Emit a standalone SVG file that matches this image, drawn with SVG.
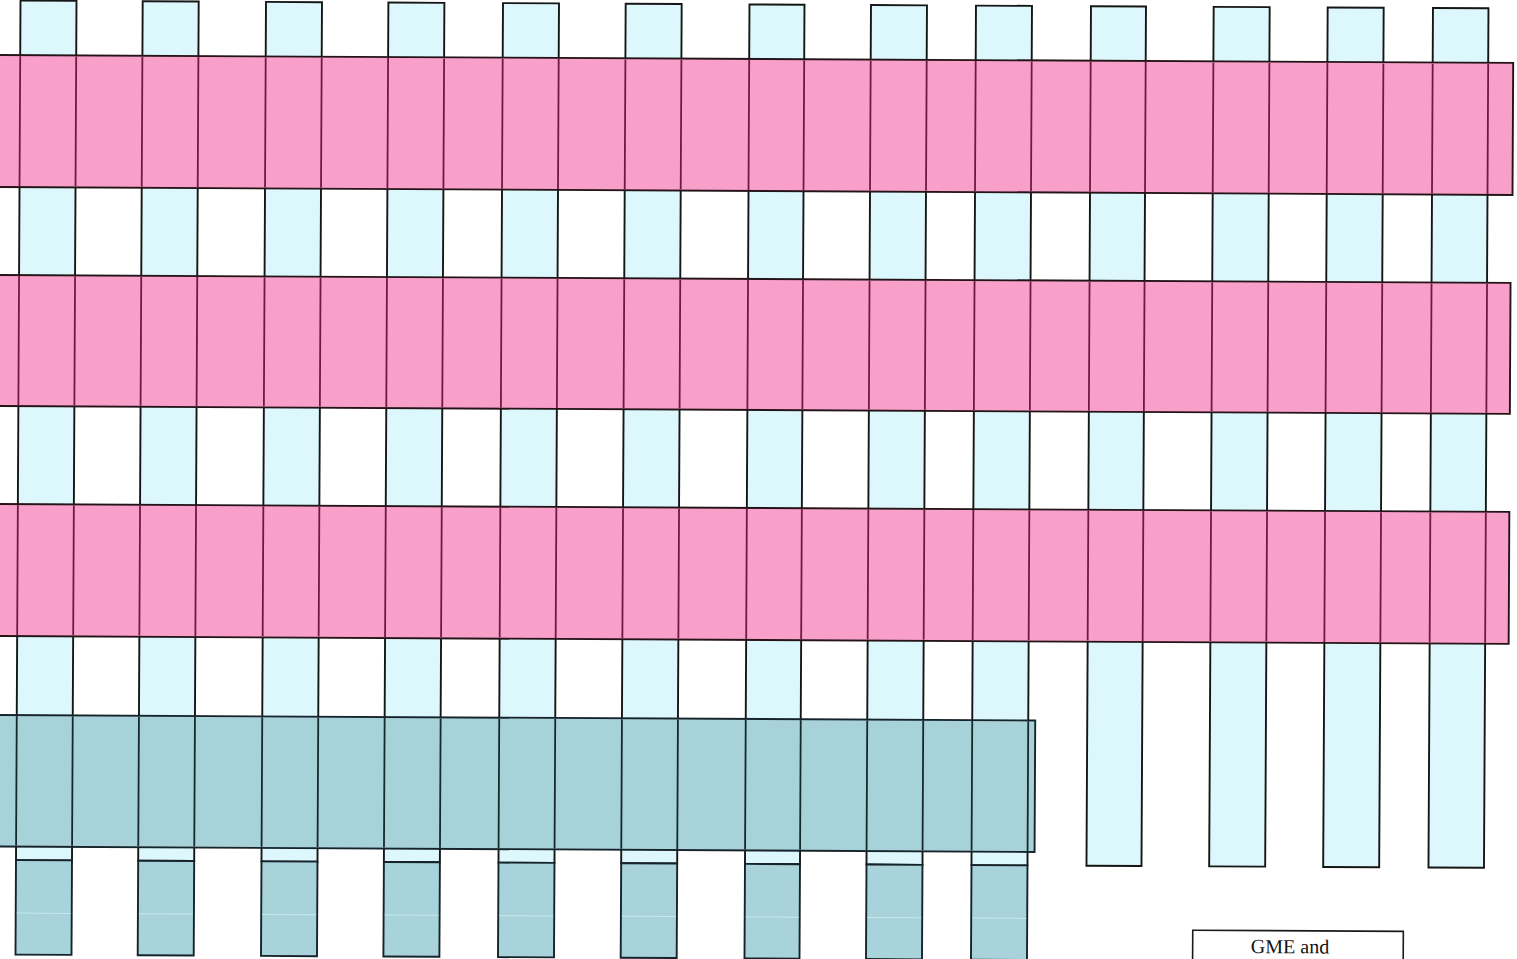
<svg xmlns="http://www.w3.org/2000/svg" xmlns:xlink="http://www.w3.org/1999/xlink" width="1517" height="959" viewBox="0 0 1517 959">
<style>
.col{fill:#dcf8fc;stroke:#161616;stroke-width:1.9}
.tbox{fill:#a8d3db;stroke:#16232a;stroke-width:1.9}
.pink{fill:#f8a0c9;stroke:#241418;stroke-width:1.9}
.teal{fill:#a8d2da;stroke:#16232a;stroke-width:1.9}
.seam{stroke:#c6e8ee;stroke-width:1;fill:none}
.lbl{font-family:"Liberation Serif","Times New Roman",serif;font-size:20px;fill:#111;text-anchor:middle}
</style>
<defs>
<path id="edges" d="M20.5 0V960M76.5 0V960M142.7 0V960M198.7 0V960M266 0V960M322 0V960M388.4 0V960M444.4 0V960M503 0V960M559 0V960M625.7 0V960M681.7 0V960M749.5 0V960M804.5 0V960M871 0V960M927 0V960M976 0V960M1032 0V960M1091 0V960M1146 0V960M1213.7 0V960M1269.7 0V960M1327.7 0V960M1383.7 0V960M1433 0V960M1488.5 0V960"/>
<clipPath id="pinkClip">
<rect x="-10" y="56" width="1523" height="130"/>
<rect x="-10" y="276" width="1521" height="129"/>
<rect x="-10" y="505" width="1521" height="130"/>
</clipPath>
<clipPath id="tealClip">
<rect x="-10" y="716" width="1048" height="129.5"/>
</clipPath>
</defs>
<rect x="0" y="0" width="1517" height="959" fill="#ffffff"/>
<g transform="rotate(0.3)">
<g id="columns">
<rect class="col" x="20.5" y="0.5" width="56" height="859.5"/>
<rect class="col" x="142.7" y="0.5" width="56" height="859.5"/>
<rect class="col" x="266" y="0.5" width="56" height="859.5"/>
<rect class="col" x="388.4" y="0.5" width="56" height="859.5"/>
<rect class="col" x="503" y="0.5" width="56" height="859.5"/>
<rect class="col" x="625.7" y="0.5" width="56" height="859.5"/>
<rect class="col" x="749.5" y="0.5" width="55" height="859.5"/>
<rect class="col" x="871" y="0.5" width="56" height="859.5"/>
<rect class="col" x="976" y="0.5" width="56" height="859.5"/>
<rect class="col" x="1091" y="0.5" width="55" height="859.5"/>
<rect class="col" x="1213.7" y="0.5" width="56" height="859.5"/>
<rect class="col" x="1327.7" y="0.5" width="56" height="859.5"/>
<rect class="col" x="1433" y="0.5" width="55.5" height="859.5"/>
</g>
<g id="bottom-boxes">
<rect class="tbox" x="20.5" y="860" width="56" height="94.5"/>
<rect class="tbox" x="142.7" y="860" width="56" height="94.5"/>
<rect class="tbox" x="266" y="860" width="56" height="94.5"/>
<rect class="tbox" x="388.4" y="860" width="56" height="94.5"/>
<rect class="tbox" x="503" y="860" width="56" height="94.5"/>
<rect class="tbox" x="625.7" y="860" width="56" height="94.5"/>
<rect class="tbox" x="749.5" y="860" width="55" height="94.5"/>
<rect class="tbox" x="871" y="860" width="56" height="94.5"/>
<rect class="tbox" x="976" y="860" width="56" height="94.5"/>
<path class="seam" d="M21.5 913H75.5M143.7 913H197.7M267 913H321M389.4 913H443.4M504 913H558M626.7 913H680.7M750.5 913H803.5M872 913H926M977 913H1031"/>
</g>
<g id="bands">
<rect class="pink" x="-8" y="55" width="1521.5" height="132"/>
<rect class="pink" x="-8" y="275" width="1520" height="131"/>
<rect class="pink" x="-8" y="504" width="1520" height="132"/>
<rect class="teal" x="-8" y="715" width="1047" height="131.5"/>
</g>
<g id="connectors">
<use xlink:href="#edges" href="#edges" fill="none" stroke="#6e1a40" stroke-width="1.8" clip-path="url(#pinkClip)"/>
<use xlink:href="#edges" href="#edges" fill="none" stroke="#16282c" stroke-width="1.8" clip-path="url(#tealClip)"/>
</g>
<g id="legend">
<rect x="1197.6" y="924" width="210.6" height="80" fill="#ffffff" stroke="#1a1a1a" stroke-width="1.6"/>
<text class="lbl" x="1295" y="946.5">GME and</text>
</g>
</g>
</svg>
